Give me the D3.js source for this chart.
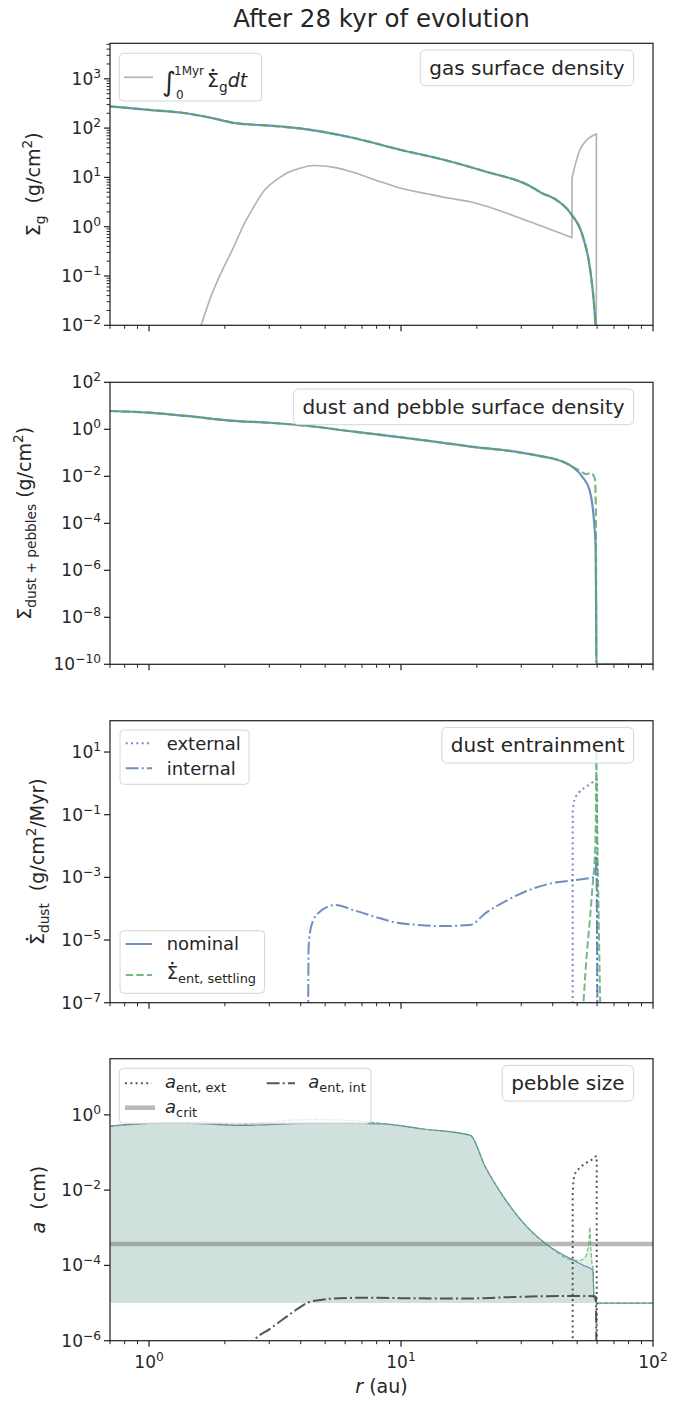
<!DOCTYPE html>
<html>
<head>
<meta charset="utf-8">
<script src="https://cdn.jsdelivr.net/npm/d3@7"></script>
<style>
  body { margin: 0; background: #fff; }
  svg { display: block; }
  text { font-family: "DejaVu Sans", sans-serif; fill: #262626; white-space: pre; }
</style>
</head>
<body>
<svg id="chart" width="692" height="1401"></svg>
<script>
// ---------------- data ----------------
// Gas surface density (g/cm^2)
const rGas = [0.7, 1.0, 1.4, 1.8, 2.2, 2.6, 3.0, 4.3, 6.5, 10, 14.5, 21.6, 32.3, 36, 41, 47.2, 52.7, 56.1, 57.8, 58.6, 59.1, 59.5];
const sigmaGas = [275, 234, 200, 158, 126, 117, 112, 93, 63, 36, 23.4, 13.2, 6.8, 4.9, 3.6, 1.85, 0.63, 0.155, 0.045, 0.02, 0.0095, 0.001];

// Time-integrated gas loss rate
const rGasLoss = [1.55, 1.61, 1.75, 1.93, 2.15, 2.36, 2.6, 2.88, 3.2, 3.53, 4.0, 4.5, 5.5, 6.5, 7.9, 10, 12.8, 15, 19, 32.4, 47.7, 47.7, 48.8, 51.1, 54.3, 57.8, 59.6, 59.6];
const gasLoss = [0.0056, 0.01, 0.0355, 0.115, 0.355, 1.02, 2.5, 5.6, 8.9, 12.3, 15.5, 17.4, 15.8, 12.6, 8.9, 6.0, 4.6, 3.9, 3.16, 1.26, 0.6, 9.6, 15.8, 34.7, 56, 71, 76, 0.001];

// Dust + pebble surface density (g/cm^2)
const rDust = [0.7, 1.0, 1.4, 2.1, 3.0, 4.3, 6.5, 10, 14.5, 19.2, 26.5, 36.6, 40, 44.8, 48, 52.5, 56, 57.6, 58.6, 59.2, 59.5, 59.6, 100];
const dustNominal = [6.0, 5.1, 3.7, 2.35, 1.9, 1.38, 0.79, 0.457, 0.27, 0.18, 0.123, 0.069, 0.0575, 0.038, 0.025, 0.0093, 0.0026, 5.0e-4, 6.9e-5, 1e-5, 1e-8, 1e-10, 1e-10];
const rDustSettling = [0.7, 1.0, 1.4, 2.1, 3.0, 4.3, 6.5, 10, 14.5, 19.2, 26.5, 36.6, 40, 44.8, 48, 51, 54.2, 56.8, 58.9, 59.3, 59.5, 59.6, 100];
const dustSettling = [6.0, 5.1, 3.7, 2.35, 1.9, 1.38, 0.79, 0.457, 0.27, 0.18, 0.123, 0.069, 0.0575, 0.038, 0.025, 0.0182, 0.0123, 0.0141, 0.0072, 4.0e-4, 1e-8, 1e-10, 1e-10];

// Dust entrainment rates (g/cm^2/Myr)
const rInternal = [4.28, 4.3, 4.4, 4.68, 5.5, 6.46, 7.9, 9.66, 11.8, 14.5, 18.8, 21.6, 26.5, 32.4, 39.6, 48.4, 57.8, 59.2, 59.5, 59.8, 60.2];
const entInternal = [3.2e-8, 6.3e-6, 2.7e-5, 7.1e-5, 1.32e-4, 9.1e-5, 5.5e-5, 3.55e-5, 3.0e-5, 2.8e-5, 3.0e-5, 7.1e-5, 1.9e-4, 4.0e-4, 6.5e-4, 8.1e-4, 1.0e-3, 1.05e-3, 5.0e-3, 3.2e-4, 3.2e-8];
const rExternal = [48.0, 48.0, 48.8, 51.1, 54.3, 57.8, 59.6, 60.0, 60.0];
const entExternal = [3e-8, 0.141, 0.295, 0.537, 0.776, 1.12, 1.35, 1.26, 3e-8];
const rSettlingRate = [52.7, 54.3, 56.1, 57.8, 58.7, 59.3, 59.6, 60.0, 60.9, 61.8];
const entSettling = [5e-8, 2e-6, 4e-5, 8.1e-4, 3.6e-3, 0.068, 11.5, 0.068, 4.4e-5, 5e-8];

// Pebble size (cm)
const rPebble = [0.7, 1.0, 1.3, 1.7, 2.2, 2.7, 3.5, 4.5, 5.5, 7, 8.5, 12, 18.8, 21.6, 26.5, 32.4, 38.1, 48.2, 53, 57.8, 58.3, 59.5, 60.5, 100];
const aNominal = [0.50, 0.59, 0.60, 0.575, 0.525, 0.537, 0.575, 0.60, 0.60, 0.59, 0.575, 0.427, 0.288, 0.0417, 4.6e-3, 8.9e-4, 3.5e-4, 1.38e-4, 1.0e-4, 7.4e-5, 1.45e-5, 1.12e-5, 1e-5, 1e-5];
const rPebbleSettling = [0.7, 1.0, 1.3, 1.7, 2.2, 2.7, 3.5, 4.5, 5.5, 7, 8.5, 12, 18.8, 21.6, 26.5, 32.4, 38.1, 48.2, 51, 53.5, 55, 55.8, 56.1, 56.5, 57.2, 57.8, 58.3, 59.5, 60.5, 100];
const aSettling = [0.50, 0.59, 0.646, 0.631, 0.537, 0.603, 0.708, 0.759, 0.741, 0.676, 0.589, 0.427, 0.288, 0.0417, 4.6e-3, 8.9e-4, 3.5e-4, 1.38e-4, 1.35e-4, 1.58e-4, 2.5e-4, 5.0e-4, 1.05e-3, 4.0e-4, 1.26e-4, 7.4e-5, 1.45e-5, 1.12e-5, 1e-5, 1e-5];
const aFloor = 1e-5;
const rCrit = [0.7, 100];
const aCrit = [3.7e-4, 3.7e-4];
const rEntExt = [48.0, 48.0, 48.3, 48.8, 51, 54.3, 57.8, 59.6, 59.8, 59.8];
const aEntExt = [3.2e-7, 7.9e-3, 0.0158, 0.025, 0.038, 0.0525, 0.0676, 0.079, 0.079, 3.2e-7];
const rEntInt = [2.45, 2.61, 3.0, 3.4, 3.9, 4.3, 5.0, 5.7, 7, 10, 15, 18.4, 25, 35, 48, 58.5, 59.3, 59.5, 59.6];
const aEntInt = [5e-7, 1e-6, 2.0e-6, 3.7e-6, 7.1e-6, 1.05e-5, 1.26e-5, 1.35e-5, 1.38e-5, 1.35e-5, 1.32e-5, 1.32e-5, 1.41e-5, 1.51e-5, 1.55e-5, 1.51e-5, 1.45e-5, 3.2e-6, 3.2e-7];

// Axis ranges and tick decades
const xDomain = [0.7, 100];
const xMajor = [1, 10, 100];
const yDomains = [[1e-2, 5250], [1e-10, 1e2], [1e-7, 1e2], [1e-6, 31]];
const yMajorExps = [[-2, -1, 0, 1, 2, 3], [-10, -8, -6, -4, -2, 0, 2], [-7, -5, -3, -1, 1], [-6, -4, -2, 0]];
const yMinor = [true, false, false, false];
const panelNotes = ["gas surface density", "dust and pebble surface density", "dust entrainment", "pebble size"];

// ---------------- layout & style ----------------
const X0 = 110, X1 = 653, PH = 282;
const tops = [43.3, 382.3, 720.7, 1058.7];
const ink = "#262626";
const blue = "#4C72B0", green = "#55A868", gray = "#a8a8a8", dark = "#3a3a3a";
const fsTick = 17, fsLeg = 18, fsBox = 20, fsLab = 19, fsTitle = 24.5;

const svg = d3.select("#chart");
const x = d3.scaleLog().domain(xDomain).range([X0, X1]);

function dash(style, lw) {
  if (style === "dashed") return [3.7 * lw, 1.6 * lw].join(",");
  if (style === "dotted") return [1 * lw, 1.65 * lw].join(",");
  if (style === "dashdot") return [6.4 * lw, 1.6 * lw, 1 * lw, 1.6 * lw].join(",");
  return null;
}

// Mixed text with sub/superscripts and italics; characters flagged with
// `dot` get an overdot (time derivative) once the text is positioned.
function rich(parent, segs, fs) {
  const t = parent.append("text").attr("font-size", fs);
  let cur = 0, idx = 0;
  const dots = [];
  segs.forEach(s => {
    let off = 0, size = fs;
    if (s.sub) { off = 0.24 * fs; size = 0.72 * fs; }
    if (s.sup) { off = -0.42 * fs; size = 0.72 * fs; }
    const ts = t.append("tspan").text(s.t).attr("dy", (off - cur).toFixed(2)).attr("font-size", size);
    if (s.it) ts.attr("font-style", "italic");
    if (s.dot) dots.push({ idx, size });
    idx += s.t.length;
    cur = off;
  });
  t.node().__dots = dots;
  return t;
}

function placeDots(t) {
  const node = t.node();
  const parent = d3.select(node.parentNode);
  (node.__dots || []).forEach(d => {
    const ext = node.getExtentOfChar(d.idx);
    parent.append("circle")
      .attr("cx", ext.x + ext.width / 2)
      .attr("cy", ext.y + 0.06 * d.size)
      .attr("r", 0.075 * d.size)
      .attr("fill", ink);
  });
  return t;
}

function powSegs(e) {
  return [{ t: "10" }, { t: e < 0 ? "\u2212" + (-e) : String(e), sup: true }];
}

// Smooth path through screen points; repeated radii give vertical jumps
function smoothPath(pts) {
  const runs = [];
  let run = [];
  pts.forEach((p, k) => {
    if (k > 0 && !(p[0] > pts[k - 1][0] + 0.01)) { runs.push(run); run = []; }
    run.push(p);
  });
  runs.push(run);
  const gen = d3.line().curve(d3.curveMonotoneX);
  return runs.map((r, k) => {
    const s = r.length > 1 ? gen(r) : `M${r[0][0]},${r[0][1]}`;
    return k === 0 ? s : "L" + s.slice(1);
  }).join("");
}

function makePanel(i) {
  const top = tops[i], bottom = top + PH;
  const y = d3.scaleLog().domain(yDomains[i]).range([bottom, top]);
  const g = svg.append("g");
  g.append("clipPath").attr("id", "clip" + i)
    .append("rect").attr("x", X0).attr("y", top).attr("width", X1 - X0).attr("height", PH);
  const plot = g.append("g").attr("clip-path", `url(#clip${i})`);
  return { i, top, bottom, y, g, plot };
}

function finishPanel(p) {
  const { y, top, bottom, i } = p;
  const axes = svg.append("g");
  const xMinorTicks = [];
  [0.1, 1, 10].forEach(d => { for (let k = 2; k <= 9; k++) xMinorTicks.push(k * d); });
  xMinorTicks.filter(v => v >= xDomain[0] && v <= xDomain[1]).forEach(v => {
    axes.append("line").attr("x1", x(v)).attr("x2", x(v)).attr("y1", bottom).attr("y2", bottom + 3.5)
      .attr("stroke", ink).attr("stroke-width", 1);
  });
  xMajor.forEach(v => {
    axes.append("line").attr("x1", x(v)).attr("x2", x(v)).attr("y1", bottom).attr("y2", bottom + 6)
      .attr("stroke", ink).attr("stroke-width", 1.25);
  });
  if (i === 3) {
    xMajor.forEach(v => {
      rich(axes, powSegs(Math.round(Math.log10(v))), fsTick)
        .attr("x", x(v)).attr("y", bottom + 27).attr("text-anchor", "middle");
    });
  }
  if (yMinor[i]) {
    const [lo, hi] = yDomains[i];
    for (let e = Math.floor(Math.log10(lo)); e <= Math.ceil(Math.log10(hi)); e++) {
      for (let k = 2; k <= 9; k++) {
        const v = k * Math.pow(10, e);
        if (v < lo || v > hi) continue;
        axes.append("line").attr("x1", X0 - 3.5).attr("x2", X0).attr("y1", y(v)).attr("y2", y(v))
          .attr("stroke", ink).attr("stroke-width", 1);
      }
    }
  }
  yMajorExps[i].forEach(e => {
    const v = Math.pow(10, e);
    axes.append("line").attr("x1", X0 - 6).attr("x2", X0).attr("y1", y(v)).attr("y2", y(v))
      .attr("stroke", ink).attr("stroke-width", 1.25);
    rich(axes, powSegs(e), fsTick).attr("x", X0 - 9).attr("y", y(v) + 6).attr("text-anchor", "end");
  });
  axes.append("rect").attr("x", X0).attr("y", top).attr("width", X1 - X0).attr("height", PH)
    .attr("fill", "none").attr("stroke", ink).attr("stroke-width", 1.25);
}

function drawLine(p, r, v, color, lw, style, op) {
  const pts = d3.zip(r, v).map(d => [x(d[0]), p.y(Math.max(d[1], 1e-30))]);
  return p.plot.append("path").attr("d", smoothPath(pts))
    .attr("fill", "none").attr("stroke", color).attr("stroke-width", lw)
    .attr("stroke-opacity", op == null ? 0.8 : op)
    .attr("stroke-dasharray", dash(style, lw));
}

function noteBox(p, label) {
  const right = 633.6, pad = 9, h = 35.7, y0 = p.top + 6.7;
  const grp = svg.append("g");
  const rect = grp.append("rect");
  const t = grp.append("text").attr("font-size", fsBox).attr("x", right - pad).attr("y", y0 + h / 2 + 7)
    .attr("text-anchor", "end").text(label);
  const w = t.node().getComputedTextLength();
  rect.attr("x", right - w - 2 * pad).attr("y", y0).attr("width", w + 2 * pad).attr("height", h)
    .attr("rx", 5).attr("fill", "#fff").attr("fill-opacity", 0.8).attr("stroke", "#d6d6d6").attr("stroke-width", 1);
}

function legendBox(x0, y0, w, h) {
  return svg.append("rect").attr("x", x0).attr("y", y0).attr("width", w).attr("height", h).attr("rx", 4)
    .attr("fill", "#fff").attr("fill-opacity", 0.8).attr("stroke", "#d6d6d6").attr("stroke-width", 1);
}

function sample(x0, x1, yy, color, lw, style, op) {
  svg.append("line").attr("x1", x0).attr("x2", x1).attr("y1", yy).attr("y2", yy)
    .attr("stroke", color).attr("stroke-width", lw).attr("stroke-opacity", op == null ? 0.8 : op)
    .attr("stroke-dasharray", dash(style, lw));
}

function ylabel(segs, xb, p) {
  const g = svg.append("g").attr("transform", `translate(${xb},${(p.top + p.bottom) / 2}) rotate(-90)`);
  placeDots(rich(g, segs, fsLab).attr("text-anchor", "middle"));
}

// ---------------- title ----------------
svg.append("text").attr("x", (X0 + X1) / 2).attr("y", 27).attr("text-anchor", "middle")
  .attr("font-size", fsTitle).text("After 28 kyr of evolution");

// ---------------- panel 1: gas ----------------
const p1 = makePanel(0);
drawLine(p1, rGasLoss, gasLoss, gray, 1.6, "solid", 0.9);
drawLine(p1, rGas, sigmaGas, blue, 2.2, "solid");
drawLine(p1, rGas, sigmaGas, green, 2.2, "dashed");
finishPanel(p1);
noteBox(p1, panelNotes[0]);
legendBox(119.3, 53.3, 142.4, 47.7);
sample(124, 153, 77.3, gray, 1.6, "solid", 0.9);
svg.append("text").attr("x", 162).attr("y", 91).attr("font-size", 27).text("\u222B");
svg.append("text").attr("x", 174).attr("y", 75).attr("font-size", 12).text("1Myr");
svg.append("text").attr("x", 176).attr("y", 99).attr("font-size", 12).text("0");
placeDots(rich(svg, [{ t: "\u03A3", dot: true }, { t: "g", sub: true }, { t: "dt", it: true }], 19).attr("x", 207).attr("y", 87));
ylabel([{ t: "\u03A3" }, { t: "g", sub: true }, { t: "  (g/cm" }, { t: "2", sup: true }, { t: ")" }], 40, p1);

// ---------------- panel 2: dust + pebbles ----------------
const p2 = makePanel(1);
drawLine(p2, rDust, dustNominal, blue, 2.2, "solid");
drawLine(p2, rDustSettling, dustSettling, green, 2.2, "dashed");
finishPanel(p2);
noteBox(p2, panelNotes[1]);
ylabel([{ t: "\u03A3" }, { t: "dust + pebbles", sub: true }, { t: " (g/cm" }, { t: "2", sup: true }, { t: ")" }], 31, p2);

// ---------------- panel 3: entrainment ----------------
const p3 = makePanel(2);
drawLine(p3, rExternal, entExternal, blue, 2, "dotted");
drawLine(p3, rInternal, entInternal, blue, 2, "dashdot");
drawLine(p3, rSettlingRate, entSettling, green, 2, "dashed");
finishPanel(p3);
noteBox(p3, panelNotes[2]);
legendBox(120, 730, 129, 54.3);
sample(125.7, 152, 743.3, blue, 2, "dotted");
svg.append("text").attr("x", 166.7).attr("y", 749.5).attr("font-size", fsLeg).text("external");
sample(125.7, 152, 768.3, blue, 2, "dashdot");
svg.append("text").attr("x", 166.7).attr("y", 774.5).attr("font-size", fsLeg).text("internal");
legendBox(120, 930.7, 144.6, 62.6);
sample(125.7, 152, 944, blue, 2, "solid");
svg.append("text").attr("x", 166.7).attr("y", 950.2).attr("font-size", fsLeg).text("nominal");
sample(125.7, 152, 975, green, 2, "dashed");
placeDots(rich(svg, [{ t: "\u03A3", dot: true }, { t: "ent, settling", sub: true }], fsLeg).attr("x", 166.7).attr("y", 979));
ylabel([{ t: "\u03A3", dot: true }, { t: "dust", sub: true }, { t: "  (g/cm" }, { t: "2", sup: true }, { t: "/Myr)" }], 44, p3);

// ---------------- panel 4: pebble size ----------------
const p4 = makePanel(3);
const areaN = d3.area().curve(d3.curveMonotoneX).x(d => x(d[0])).y0(p4.y(aFloor)).y1(d => p4.y(d[1]));
p4.plot.append("path").datum(d3.zip(rPebble, aNominal)).attr("d", areaN).attr("fill", blue).attr("fill-opacity", 0.15);
p4.plot.append("path").datum(d3.zip(rPebbleSettling, aSettling)).attr("d", areaN).attr("fill", green).attr("fill-opacity", 0.15);
drawLine(p4, rCrit, aCrit, "#808080", 4.5, "solid", 0.55);
drawLine(p4, rPebble, aNominal, blue, 1.2, "solid");
drawLine(p4, rPebbleSettling, aSettling, green, 1.2, "dashed");
drawLine(p4, rEntExt, aEntExt, dark, 2, "dotted", 0.85);
drawLine(p4, rEntInt, aEntInt, dark, 2, "dashdot", 0.85);
finishPanel(p4);
noteBox(p4, panelNotes[3]);
legendBox(119.3, 1068.3, 251.7, 55);
sample(125, 151.7, 1083.3, dark, 2, "dotted", 0.85);
rich(svg, [{ t: "a", it: true }, { t: "ent, ext", sub: true }], fsLeg).attr("x", 165).attr("y", 1088);
sample(266.7, 295, 1083.3, dark, 2, "dashdot", 0.85);
rich(svg, [{ t: "a", it: true }, { t: "ent, int", sub: true }], fsLeg).attr("x", 308.3).attr("y", 1088);
sample(125, 155, 1107.7, "#808080", 4.5, "solid", 0.55);
rich(svg, [{ t: "a", it: true }, { t: "crit", sub: true }], fsLeg).attr("x", 165).attr("y", 1112.5);
ylabel([{ t: "a", it: true }, { t: "  (cm)" }], 45, p4);

// x axis label
rich(svg, [{ t: "r", it: true }, { t: " (au)" }], fsLab).attr("x", (X0 + X1) / 2).attr("y", 1393).attr("text-anchor", "middle");
</script>
</body>
</html>
